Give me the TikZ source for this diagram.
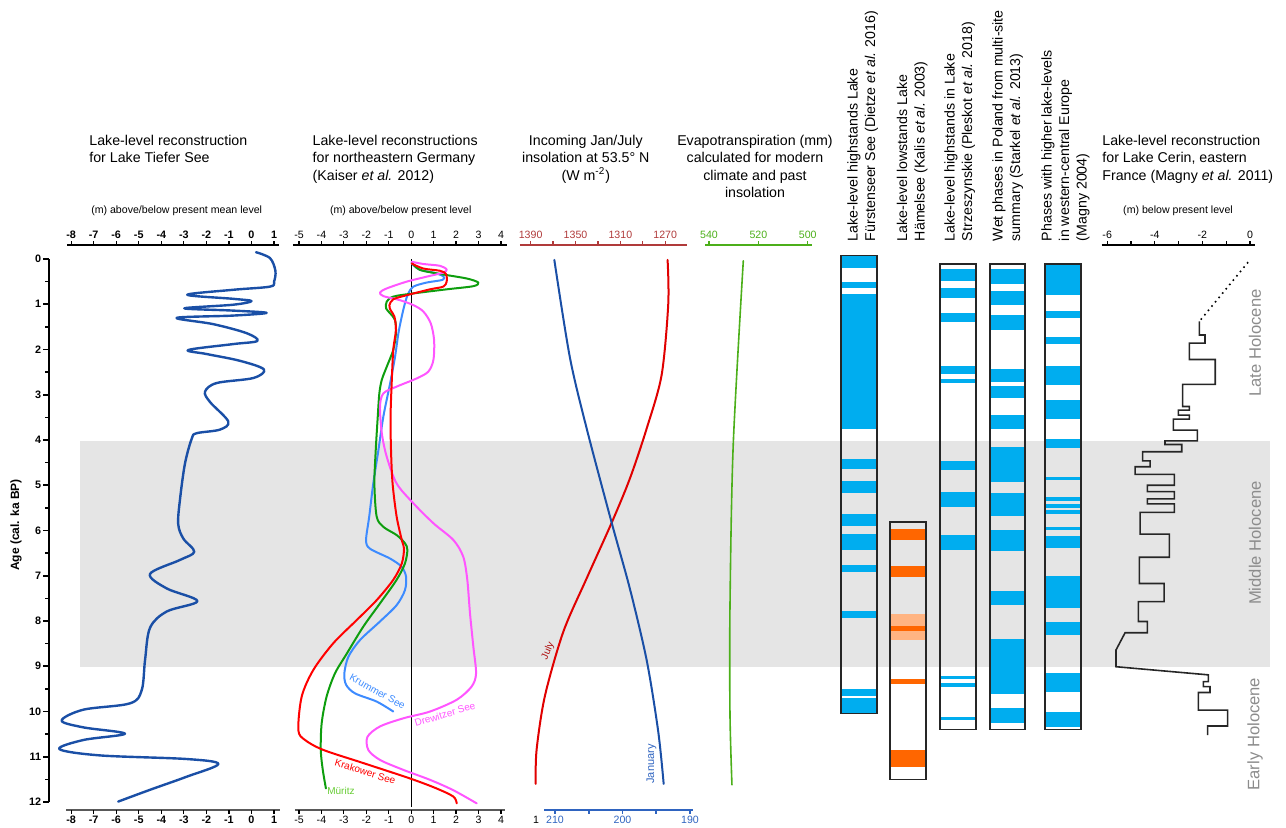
\documentclass[tikz,border=0pt]{standalone}
\usepackage{fontspec}
\setmainfont{Liberation Sans}

\definecolor{bandgray}{HTML}{E5E5E5}
\definecolor{tsblue}{HTML}{1A4FA6}
\definecolor{krblue}{HTML}{3D8BFF}
\definecolor{mugreen}{HTML}{0E9E0E}
\definecolor{mulabel}{HTML}{66CC33}
\definecolor{krred}{HTML}{FF0000}
\definecolor{drmag}{HTML}{FF55FF}
\definecolor{julred}{HTML}{E00000}
\definecolor{julydark}{HTML}{B01010}
\definecolor{janblue}{HTML}{1A4FA6}
\definecolor{evgreen}{HTML}{4CAF1A}
\definecolor{insred}{HTML}{B03A3A}
\definecolor{insblue}{HTML}{2F64C0}
\definecolor{barblue}{HTML}{00ADEF}
\definecolor{barorange}{HTML}{FF6600}
\definecolor{barpeach}{HTML}{FFB482}
\definecolor{holgray}{HTML}{8C8C8C}

\begin{document}
\begin{tikzpicture}[
    x=0.5pt, y=-0.5pt,
    ttl/.style={font=\fontsize{7.1}{8.75}\selectfont, inner sep=0pt},
    axlbl/.style={font=\fontsize{5.3}{6.4}\selectfont, inner sep=0pt},
    numlbl/.style={font=\fontsize{5.3}{6.4}\selectfont, inner sep=0pt},
    boldlbl/.style={font=\bfseries\fontsize{5.4}{6.4}\selectfont, inner sep=0pt},
    curvelbl/.style={font=\fontsize{5}{6}\selectfont, inner sep=0pt},
    bartitle/.style={ttl, rotate=90, align=left, anchor=north west},
    holo/.style={font=\fontsize{8.3}{10}\selectfont, text=holgray, rotate=90, inner sep=0pt},
    topaxis/.style={line width=0.6pt},
    botaxis/.style={draw=black!65, line width=0.9pt},
    datacurve/.style={line width=1pt, line join=round, line cap=round},
    barframe/.style={draw=black!85, line width=0.6pt}
]
\useasboundingbox (0,0) rectangle (1286,827);

% Middle Holocene band
\fill[bandgray] (80,441) rectangle (1270,667);

% Age axis
\begin{scope}[shift={(0,259)}, y=-22.625pt]
  \draw[line width=0.8pt] (49,0) -- (49,12);
  \foreach \a in {0,...,12} {
    \draw[line width=0.8pt] (49,\a) -- (43,\a);
    \node[boldlbl, anchor=east] (age\a) at (41.5,\a) {\a};
  }
  \foreach \a in {0.5,1.5,...,11.5}
    \draw[line width=0.8pt] (49,\a) -- (45,\a);
\end{scope}
\node[boldlbl, font=\bfseries\fontsize{6}{7}\selectfont, rotate=90] (agetitle) at (16,525) {Age (cal. ka BP)};

% Lake Tiefer See
\node[ttl, anchor=north west, align=left] (tstitle) at (89,134.5) {Lake-level reconstruction\\for Lake Tiefer See};
\node[axlbl] (tsunit) at (176.7,211) {(m) above/below present mean level};
\begin{scope}[shift={(251.5,259)}, x=11.275pt, y=-22.625pt]
  \draw[topaxis] (-8.18,-0.31) -- (1.22,-0.31);
  \draw[botaxis] (-8.22,12.18) -- (1.26,12.18);
  \foreach \v in {-8,...,1} {
    \draw[topaxis] (\v,-0.31) -- ++(0pt,2pt);
    \draw[topaxis] (\v,12.18) -- ++(0pt,-2pt);
    \node[boldlbl] (tstop\v) at (\v,-0.53) {\v};
    \node[boldlbl] (tsbot\v) at (\v,12.40) {\v};
  }
  \draw[datacurve, tsblue, line width=1.2pt] plot[smooth, tension=0.55] coordinates {
    (0.20,-0.15) (0.82,-0.02) (1.06,0.26) (1.0,0.50) (0.82,0.61) (-0.81,0.68) (-2.85,0.79)
    (-0.81,0.88) (0.0,0.93) (-0.81,1.01) (-2.98,1.09) (-0.81,1.14) (0.67,1.19) (-0.81,1.25)
    (-3.32,1.30) (-1.69,1.44) (-0.21,1.64) (0.26,1.81) (-0.81,1.88) (-2.80,2.01) (-1.99,2.10)
    (-0.51,2.25) (0.55,2.44) (0.08,2.63) (-1.54,2.74) (-2.06,2.93) (-1.84,3.16) (-1.03,3.59)
    (-1.40,3.77) (-2.43,3.85) (-2.65,3.97) (-2.95,4.52) (-3.17,5.31) (-3.25,5.86) (-3.02,6.18)
    (-2.54,6.47) (-3.17,6.65) (-4.50,6.96) (-3.76,7.28) (-2.40,7.56) (-3.76,7.79) (-4.50,8.15)
    (-4.72,8.86) (-4.87,9.53) (-5.39,9.82) (-7.46,9.96) (-8.42,10.20) (-7.46,10.35) (-5.61,10.49)
    (-7.46,10.63) (-8.52,10.83) (-6.72,10.97) (-2.87,11.05) (-1.47,11.16) (-2.87,11.44)
    (-4.50,11.73) (-5.91,11.99)};
\end{scope}

% Northeastern Germany
\node[ttl, anchor=north west, align=left] (getitle) at (312.3,134.5) {Lake-level reconstructions\\for northeastern Germany\\(Kaiser \textit{et al.} 2012)};
\node[axlbl] (geunit) at (400.7,211) {(m) above/below present level};
\begin{scope}[shift={(411.2,259)}, x=11.22pt, y=-22.625pt]
  \draw[topaxis] (-5.27,-0.31) -- (4.27,-0.31);
  \draw[botaxis] (-5.18,12.18) -- (4.19,12.18);
  \foreach \v in {-5,...,4} {
    \draw[topaxis] (\v,-0.31) -- ++(0pt,2pt);
    \draw[topaxis] (\v,12.18) -- ++(0pt,-2pt);
    \node[numlbl] (getop\v) at (\v,-0.53) {\v};
    \node[numlbl] (gebot\v) at (\v,12.40) {\v};
  }
  \draw[line width=0.5pt] (0,0) -- (0,12.1);
  % Krummer See
  \draw[datacurve, krblue] plot[smooth] coordinates {
    (0.02,0.10) (0.39,0.24) (0.99,0.30) (1.43,0.38) (1.40,0.46) (0.69,0.52) (0.10,0.61)
    (-0.13,0.76) (-0.28,0.98) (-0.42,1.27) (-0.57,1.64) (-0.72,2.16) (-0.94,2.75) (-1.24,3.48)
    (-1.46,4.22) (-1.69,4.96) (-1.87,5.69) (-2.01,6.21) (-1.84,6.40) (-0.94,6.62) (-0.43,6.80)
    (-0.23,7.02) (-0.28,7.32) (-0.65,7.65) (-1.39,8.01) (-2.28,8.42) (-2.80,8.79) (-2.98,9.16)
    (-2.90,9.41) (-2.50,9.60) (-1.54,9.78) (-0.80,10.00)};
  % Mueritz
  \draw[datacurve, mugreen] plot[smooth] coordinates {
    (0.02,0.08) (0.39,0.24) (1.28,0.33) (2.47,0.43) (2.99,0.52) (2.77,0.60) (1.58,0.67)
    (0.10,0.76) (-0.79,0.83) (-1.09,0.94) (-1.12,1.09) (-0.94,1.20) (-0.72,1.35) (-0.68,1.64)
    (-0.80,2.01) (-1.09,2.38) (-1.31,2.67) (-1.42,2.97) (-1.49,3.48) (-1.58,4.22) (-1.64,4.96)
    (-1.54,5.69) (-1.24,5.92) (-0.65,6.10) (-0.28,6.28) (-0.17,6.43) (-0.28,6.73) (-0.65,7.09)
    (-1.39,7.61) (-2.13,8.12) (-2.87,8.72) (-3.40,9.16) (-3.77,9.67) (-3.99,10.26) (-4.03,10.85)
    (-3.94,11.29) (-3.80,11.70)};
  % Drewitzer See
  \draw[datacurve, drmag] plot[smooth] coordinates {
    (0.02,0.06) (0.54,0.11) (1.28,0.15) (1.58,0.23) (1.43,0.30) (0.69,0.39) (-0.20,0.50)
    (-1.09,0.65) (-1.39,0.74) (-1.24,0.82) (-0.50,0.91) (0.10,1.02) (0.54,1.16) (0.87,1.42)
    (1.02,1.79) (0.99,2.23) (0.76,2.49) (0.24,2.64) (-0.65,2.82) (-1.24,2.97) (-1.39,3.26)
    (-1.31,3.85) (-1.09,4.37) (-0.65,4.96) (0.10,5.40) (0.99,5.84) (1.88,6.21) (2.32,6.58)
    (2.50,7.09) (2.62,7.83) (2.77,8.57) (2.89,9.16) (2.69,9.45) (2.03,9.74) (0.84,10.00)
    (-0.35,10.15) (-1.39,10.33) (-1.95,10.56) (-1.91,10.85) (-1.39,11.07) (-0.35,11.29)
    (0.84,11.51) (1.88,11.74) (2.92,12.03)};
  % Krakower See
  \draw[datacurve, krred] plot[smooth] coordinates {
    (0.02,0.10) (0.54,0.21) (1.28,0.26) (1.55,0.33) (1.58,0.50) (1.43,0.61) (0.84,0.67)
    (-0.20,0.80) (-0.80,0.89) (-0.97,1.02) (-0.92,1.13) (-0.75,1.27) (-0.68,1.57) (-0.80,2.01)
    (-0.87,2.75) (-0.92,3.48) (-0.90,4.22) (-0.83,4.96) (-0.65,5.69) (-0.42,6.21) (-0.32,6.40)
    (-0.42,6.73) (-0.80,7.09) (-1.54,7.54) (-2.43,7.98) (-3.47,8.49) (-4.36,9.08) (-4.88,9.67)
    (-5.03,10.41) (-4.73,10.63) (-3.91,10.85) (-2.13,11.14) (-0.05,11.48) (1.13,11.70)
    (1.88,11.88) (2.03,12.03)};
  \node[curvelbl, text=krblue, rotate=-29] (krlbl) at (-1.50,9.56) {Krummer See};
  \node[curvelbl, text=krred, rotate=-17] (kklbl) at (-2.05,11.33) {Krakower See};
  \node[curvelbl, text=drmag, rotate=17] (drlbl) at (1.50,10.06) {Drewitzer See};
  \node[curvelbl, text=mulabel] (mulbl) at (-3.13,11.75) {Müritz};
\end{scope}

% Insolation and evapotranspiration
\node[ttl, anchor=north, align=center] (institle) at (585.8,134.5) {Incoming Jan/July\\insolation at 53.5° N\\(W m\textsuperscript{-2})};
\node[ttl, anchor=north, align=center] (evtitle) at (755,134.5) {Evapotranspiration (mm)\\calculated for modern\\climate and past\\insolation};
\begin{scope}[shift={(2089.8,259)}, x=-0.56085pt, y=-22.625pt]
  \draw[topaxis, insred] (1399.5,-0.31) -- (1250.7,-0.31);
  \foreach \w in {1270,1290,...,1390}
    \draw[topaxis, insred] (\w,-0.31) -- ++(0pt,2pt);
  \foreach \w in {1270,1310,1350,1390}
    \node[numlbl, text=insred] (jul\w) at (\w,-0.53) {\w};
  \draw[datacurve, julred] plot[smooth] coordinates {
    (1267.9,0.02) (1267.3,0.99) (1273.2,2.56) (1286.6,3.75) (1301.5,4.85) (1317.8,5.83)
    (1340.1,7.06) (1360.9,8.24) (1377.3,9.66) (1384.7,10.85) (1385.5,11.60)};
  \node[curvelbl, text=julydark, rotate=66] (julylbl) at (1374.5,8.66) {July};
\end{scope}
\begin{scope}[shift={(1972.5,259)}, x=-3.375pt, y=-22.625pt]
  \draw[insblue, line width=0.8pt] (211.6,12.18) -- (189.6,12.18);
  \foreach \w in {190,195,...,210}
    \draw[insblue, line width=0.8pt] (\w,12.18) -- ++(0pt,-2pt);
  \foreach \w in {190,200,210}
    \node[numlbl, text=insblue] (jan\w) at (\w,12.40) {\w};
  \draw[datacurve, janblue] plot[smooth] coordinates {
    (210.1,0.02) (207.8,2.17) (205.3,3.75) (201.6,5.83) (198.9,7.29) (196.4,8.88)
    (194.7,10.45) (193.9,11.60)};
  \node[curvelbl, font=\fontsize{5.5}{6}\selectfont, text=insblue, rotate=90] (janlbl) at (195.7,11.16) {January};
\end{scope}
\node[numlbl] (stray) at (536,820) {1};
\begin{scope}[shift={(2041.45,259)}, x=-1.23375pt, y=-22.625pt]
  \draw[topaxis, evgreen] (541.6,-0.31) -- (498.2,-0.31);
  \foreach \e in {500,520,540} {
    \draw[topaxis, evgreen] (\e,-0.31) -- ++(0pt,2pt);
    \node[numlbl, text=evgreen] (ev\e) at (\e,-0.53) {\e};
  }
  \draw[datacurve, evgreen, line width=0.8pt] plot[smooth] coordinates {
    (526.1,0.04) (530.2,4.13) (531.5,7.69) (531.5,10.05) (530.7,11.62)};
\end{scope}

% Phase bars
\begin{scope}[shift={(0,259)}, y=-22.625pt]
  \foreach \a/\b in {-0.07/0.19, 0.51/0.64, 0.77/3.76, 4.42/4.64, 4.91/5.17, 5.64/5.90,
      6.08/6.43, 6.76/6.92, 7.78/7.93, 9.50/9.65, 9.70/10.04}
    \fill[barblue] (841,\a) rectangle (877,\b);
  \draw[barframe] (841,-0.07) rectangle (877,10.04);

  \fill[barpeach] (890,7.85) rectangle (926,8.42);
  \foreach \a/\b in {5.97/6.21, 6.78/7.03, 8.11/8.22, 9.28/9.39, 10.85/11.23}
    \fill[barorange] (890,\a) rectangle (926,\b);
  \draw[barframe] (890,5.81) rectangle (926,11.51);

  \foreach \a/\b in {0.22/0.49, 0.64/0.86, 1.19/1.39, 2.36/2.54, 2.65/2.74, 4.46/4.66,
      5.15/5.48, 6.10/6.43, 9.22/9.28, 9.37/9.46, 10.12/10.19}
    \fill[barblue] (940,\a) rectangle (976,\b);
  \draw[barframe] (940,0.11) rectangle (976,10.39);

  \foreach \a/\b in {0.22/0.55, 0.71/1.02, 1.24/1.57, 2.43/2.72, 2.81/3.07, 3.45/3.76,
      4.15/4.93, 5.17/5.68, 5.99/6.45, 7.34/7.65, 8.40/9.61, 9.92/10.25}
    \fill[barblue] (990,\a) rectangle (1025,\b);
  \draw[barframe] (990,0.11) rectangle (1025,10.39);

  \foreach \a/\b in {0.11/0.80, 1.15/1.30, 1.72/1.88, 2.36/2.78, 3.12/3.54, 3.98/4.18,
      4.82/4.88, 5.26/5.35, 5.41/5.50, 5.55/5.64, 5.92/5.99, 6.12/6.39, 7.01/7.71,
      8.02/8.31, 9.15/9.57, 10.01/10.34}
    \fill[barblue] (1045,\a) rectangle (1081,\b);
  \draw[barframe] (1045,0.11) rectangle (1081,10.39);
\end{scope}
\node[bartitle] (furst) at (847,241.5) {Lake-level highstands Lake\\Fürstenseer See (Dietze \textit{et al.} 2016)};
\node[bartitle] (haemel) at (896.5,241.5) {Lake-level lowstands Lake\\Hämelsee (Kalis \textit{et al.} 2003)};
\node[bartitle] (strz) at (944,241.5) {Lake-level highstands in Lake\\Strzeszynskie (Pleskot \textit{et al.} 2018)};
\node[bartitle] (poland) at (992,241.5) {Wet phases in Poland from multi-site\\summary (Starkel \textit{et al.} 2013)};
\node[bartitle] (magny) at (1041,241.5) {Phases with higher lake-levels\\in western-central Europe\\(Magny 2004)};

% Lake Cerin
\node[ttl, anchor=north west, align=left] (cetitle) at (1102,134.5) {Lake-level reconstruction\\for Lake Cerin, eastern\\France (Magny \textit{et al.} 2011)};
\node[axlbl] (ceunit) at (1178,211) {(m) below present level};
\begin{scope}[shift={(1250,259)}, x=11.9pt, y=-22.625pt]
  \draw[topaxis] (-6.23,-0.31) -- (0.21,-0.31);
  \foreach \v in {-6,...,0}
    \draw[topaxis] (\v,-0.31) -- ++(0pt,2pt);
  \foreach \v in {-6,-4,-2,0}
    \node[numlbl] (cetop\v) at (\v,-0.53) {\v};
  \draw[dotted, line width=0.8pt] (-0.08,0.07) -- (-2.13,1.38);
  \draw[line width=0.8pt, black!85] (-2.13,1.38) -- (-2.13,1.68) -- (-1.89,1.68) -- (-1.89,1.86)
    -- (-2.55,1.86) -- (-2.55,2.22) -- (-1.46,2.22) -- (-1.46,2.77) -- (-2.83,2.77) -- (-2.83,3.26)
    -- (-2.55,3.26) -- (-2.55,3.34) -- (-3.01,3.34) -- (-3.01,3.45) -- (-2.55,3.45) -- (-2.55,3.54)
    -- (-3.22,3.54) -- (-3.22,3.78) -- (-2.21,3.78) -- (-2.21,4.02) -- (-3.57,4.02) -- (-3.57,4.10)
    -- (-2.87,4.10) -- (-2.87,4.26) -- (-4.51,4.26) -- (-4.51,4.46) -- (-4.20,4.46) -- (-4.20,4.59)
    -- (-4.83,4.59) -- (-4.83,4.76) -- (-3.18,4.76) -- (-3.18,5.00) -- (-4.31,5.00) -- (-4.31,5.14)
    -- (-3.18,5.14) -- (-3.18,5.30) -- (-4.31,5.30) -- (-4.31,5.41) -- (-3.18,5.41) -- (-3.18,5.60)
    -- (-4.62,5.60) -- (-4.62,6.08) -- (-3.39,6.08) -- (-3.39,6.59) -- (-4.65,6.59) -- (-4.65,7.17)
    -- (-3.61,7.17) -- (-3.61,7.57) -- (-4.69,7.57) -- (-4.69,8.01) -- (-4.31,8.01) -- (-4.31,8.26)
    -- (-5.25,8.26) -- (-5.63,8.64) -- (-5.63,9.01) -- (-1.75,9.19) -- (-1.75,9.34) -- (-1.96,9.34)
    -- (-1.96,9.45) -- (-1.68,9.45) -- (-1.68,9.58) -- (-2.17,9.58) -- (-2.17,9.97) -- (-0.94,9.97)
    -- (-0.94,10.32) -- (-1.78,10.32) -- (-1.78,10.52);
\end{scope}
\node[holo] (late) at (1255,343) {Late Holocene};
\node[holo] (middle) at (1255,543) {Middle Holocene};
\node[holo] (early) at (1255,734) {Early Holocene};

\end{tikzpicture}
\end{document}
